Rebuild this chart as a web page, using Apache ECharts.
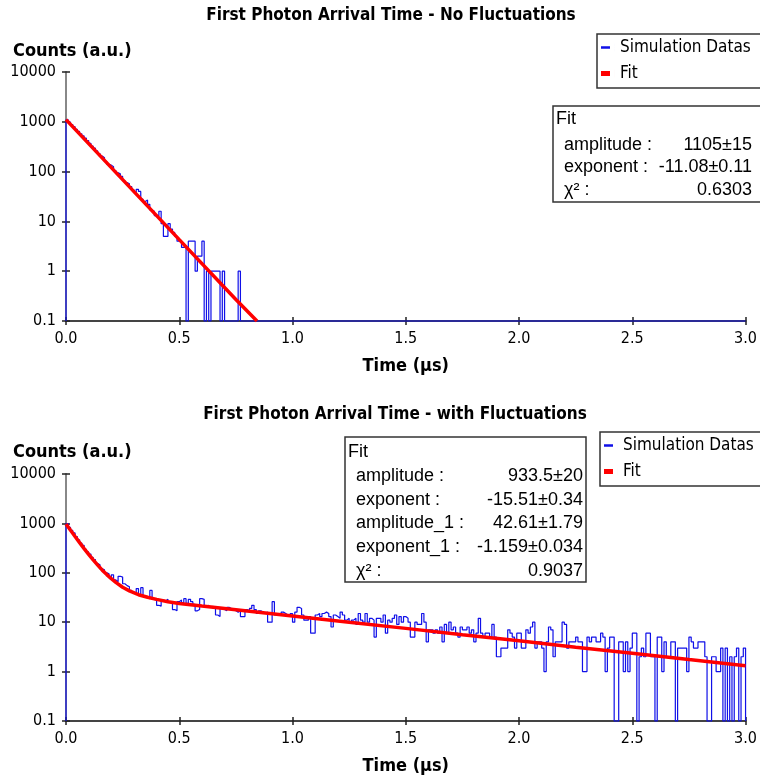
<!DOCTYPE html>
<html><head><meta charset="utf-8">
<script src="https://cdn.jsdelivr.net/npm/echarts/dist/echarts.min.js"></script>
<style>html,body{margin:0;padding:0;background:#fff}#c{width:760px;height:781px}</style>
</head><body><div id="c"></div>
<script>
// ---------- data ----------
const binWidth = 0.01; // µs
const xTickLabels = ['0.0', '0.5', '1.0', '1.5', '2.0', '2.5', '3.0'];
const yTickLabels = ['0.1', '1', '10', '100', '1000', '10000'];

// counts per 0.01 µs bin, 0 .. 3 µs (300 bins)
const countsNoFluct = [
  1100, 985, 880, 800, 705, 640, 575, 520, 470, 420,
  370, 325, 295, 260, 230, 205, 190, 160, 140, 135,
  125, 105, 95, 90, 80, 66, 60, 57, 50, 43,
  38, 44, 40, 28, 25, 27, 22, 17, 16, 13,
  13, 16, 9, 5, 5, 9, 7, 6, 5, 4,
  4, 3, 3, 0, 4, 4, 4, 1, 2, 2,
  4, 0, 1, 0, 1, 1, 1, 1, 0, 1,
  0, 0, 0, 0, 0, 0, 1, 0, 0, 0,
  0, 0, 0, 0, 0, 0, 0, 0, 0, 0,
  0, 0, 0, 0, 0, 0, 0, 0, 0, 0,
  0, 0, 0, 0, 0, 0, 0, 0, 0, 0,
  0, 0, 0, 0, 0, 0, 0, 0, 0, 0,
  0, 0, 0, 0, 0, 0, 0, 0, 0, 0,
  0, 0, 0, 0, 0, 0, 0, 0, 0, 0,
  0, 0, 0, 0, 0, 0, 0, 0, 0, 0,
  0, 0, 0, 0, 0, 0, 0, 0, 0, 0,
  0, 0, 0, 0, 0, 0, 0, 0, 0, 0,
  0, 0, 0, 0, 0, 0, 0, 0, 0, 0,
  0, 0, 0, 0, 0, 0, 0, 0, 0, 0,
  0, 0, 0, 0, 0, 0, 0, 0, 0, 0,
  0, 0, 0, 0, 0, 0, 0, 0, 0, 0,
  0, 0, 0, 0, 0, 0, 0, 0, 0, 0,
  0, 0, 0, 0, 0, 0, 0, 0, 0, 0,
  0, 0, 0, 0, 0, 0, 0, 0, 0, 0,
  0, 0, 0, 0, 0, 0, 0, 0, 0, 0,
  0, 0, 0, 0, 0, 0, 0, 0, 0, 0,
  0, 0, 0, 0, 0, 0, 0, 0, 0, 0,
  0, 0, 0, 0, 0, 0, 0, 0, 0, 0,
  0, 0, 0, 0, 0, 0, 0, 0, 0, 0,
  0, 0, 0, 0, 0, 0, 0, 0, 0, 0
];

const countsWithFluct = [
  990, 830, 720, 640, 540, 465, 400, 360, 300, 265,
  240, 205, 185, 155, 145, 120, 115, 100, 95, 80,
  91, 72, 66, 85, 82, 60, 55, 52, 44, 40,
  38, 48, 36, 50, 34, 31, 30, 44, 29, 28,
  22, 21, 28, 27, 29, 26, 25, 18, 17, 26,
  28, 25, 30, 24, 29, 26, 23, 17, 18, 30,
  29, 21, 22, 20, 21, 19, 14, 13, 19, 18,
  17, 20, 19, 18, 17, 16, 17, 13, 13, 18,
  17, 19, 22, 18, 15, 17, 16, 15, 16, 10,
  10, 26, 14, 15, 14, 16, 15, 14, 13, 15,
  10, 16, 20, 19, 14, 11, 11, 13, 6, 6,
  14, 15, 13, 15, 16, 15, 13, 8, 14, 13,
  12, 16, 14, 11, 12, 10, 11, 12, 9, 15,
  11, 10, 15, 10, 12, 11, 5, 12, 12, 10,
  14, 6, 11, 10, 12, 14, 9, 13, 10, 13,
  12, 10, 5, 5, 10, 9, 9, 15, 10, 4,
  7, 7, 6, 7, 6, 8, 4, 9, 6, 10,
  7, 8, 6, 5, 8, 7, 7, 8, 6, 7,
  4, 6, 12, 6, 5, 6, 6, 5, 9, 5,
  2, 2, 3, 3, 3, 7, 6, 5, 3, 6,
  6, 3, 3, 7, 6, 8, 10, 3, 4, 4,
  3, 1, 4, 8, 7, 2, 4, 4, 4, 10,
  9, 3, 4, 4, 4, 5, 4, 4, 1, 1,
  5, 4, 5, 5, 4, 4, 6, 5, 1, 3,
  5, 5, 0, 0, 4, 4, 1, 4, 1, 3,
  6, 6, 0, 2, 3, 2, 6, 6, 2, 2,
  0, 5, 5, 1, 4, 2, 2, 4, 4, 0,
  3, 3, 3, 3, 1, 5, 4, 3, 3, 4,
  4, 4, 2, 0, 0, 2, 2, 1, 1, 3,
  0, 3, 0, 2, 0, 2, 3, 0, 2, 3
];

// fit curves
const fitTopTime  = [0, 0.25, 0.5, 0.75, 0.843];
const fitTopValue = [1105, 69, 4.3, 0.27, 0.1];
const fitBotTime  = [0, 0.02, 0.04, 0.06, 0.08, 0.1, 0.12, 0.14, 0.16, 0.18, 0.2, 0.22, 0.25, 0.28, 0.32, 0.36, 0.4, 0.45, 0.5, 0.6, 0.7, 0.8, 1.0, 1.25, 1.5, 1.75, 2.0, 2.25, 2.5, 2.75, 3.0];
const fitBotValue = [976, 726, 543, 408, 309, 236, 182, 143, 113, 92, 76, 64, 51, 43, 36, 32, 29, 26, 24, 21.3, 19, 16.8, 13.4, 10, 7.5, 5.6, 4.2, 3.1, 2.35, 1.75, 1.32];

const fitTopLabels = ['amplitude :', 'exponent :', 'χ² :'];
const fitTopValues = ['1105±15', '-11.08±0.11', '0.6303'];
const fitBotLabels = ['amplitude :', 'exponent :', 'amplitude_1 :', 'exponent_1 :', 'χ² :'];
const fitBotValues = ['933.5±20', '-15.51±0.34', '42.61±1.79', '-1.159±0.034', '0.9037'];

const titleTop = 'First Photon Arrival Time - No Fluctuations';
const titleBot = 'First Photon Arrival Time - with Fluctuations';
const yName = 'Counts (a.u.)';
const xName = 'Time (µs)';
const nameData = 'Simulation Datas';
const nameFit = 'Fit';

// ---------- build ----------
const AXMIN = 0.1;
function histData(counts) {
  const d = [[0, AXMIN]];
  counts.forEach((c, i) => d.push([+(i * binWidth).toFixed(2), c > 0 ? c : AXMIN]));
  d.push([+(counts.length * binWidth).toFixed(2), AXMIN]);
  return d;
}
function pairs(t, v) { return t.map((x, i) => [x, v[i]]); }

const CF = 'DejaVu Sans Condensed';
const AF = 'Liberation Sans';

const grids = [
  { left: 66, width: 681, top: 72, height: 249 },
  { left: 66, width: 681, top: 474, height: 247 }
];

function xAxes(gi) {
  const base = { gridIndex: gi, type: 'value', min: 0, max: 3, interval: 0.5, position: 'bottom', splitLine: { show: false } };
  return [
    Object.assign({}, base, {
      name: xName, nameLocation: 'middle', nameGap: 36,
      nameTextStyle: { fontFamily: CF, fontWeight: 'bold', fontSize: 18, color: '#000' },
      axisLine: { show: true, lineStyle: { color: '#444', width: 2 } },
      axisTick: { show: true, inside: false, length: 4, lineStyle: { color: '#222', width: 1.5 } },
      axisLabel: { margin: 10, fontFamily: CF, fontSize: 16, color: '#000', formatter: v => xTickLabels[Math.round(v / 0.5)] }
    }),
    Object.assign({}, base, {
      axisLine: { show: false }, axisLabel: { show: false },
      axisTick: { show: true, inside: true, length: 4, lineStyle: { color: '#222', width: 1.5 } }
    })
  ];
}
function yAxes(gi) {
  const base = { gridIndex: gi, type: 'log', logBase: 10, min: 0.1, max: 10000, position: 'left', splitLine: { show: false }, minorTick: { show: false } };
  return [
    Object.assign({}, base, {
      axisLine: { show: true, lineStyle: { color: '#888', width: 2 } },
      axisTick: { show: true, inside: false, length: 4, lineStyle: { color: '#222', width: 1.5 } },
      axisLabel: { margin: 10, fontFamily: CF, fontSize: 16, color: '#000',
        formatter: v => yTickLabels[Math.round(Math.log10(v)) + 1] }
    }),
    Object.assign({}, base, {
      axisLine: { show: false }, axisLabel: { show: false },
      axisTick: { show: true, inside: true, length: 4, lineStyle: { color: '#222', width: 1.5 } }
    })
  ];
}

const legendIconData = 'path://M0,2.7 H9 V5.3 H0 Z M0,0 H0.01 V8 H0 Z M14,0 H14.01 V8 H14 Z';
const legendIconFit = 'path://M0,1.4 H9 V6.6 H0 Z M0,0 H0.01 V8 H0 Z M14,0 H14.01 V8 H14 Z';
function legend(left, top) {
  return {
    orient: 'vertical', left: left, top: top,
    itemWidth: 14, itemHeight: 8, itemGap: 9,
    padding: [5, 12, 6, 4],
    borderColor: '#333', borderWidth: 1.5, backgroundColor: '#fff',
    textStyle: { fontFamily: CF, fontSize: 17, color: '#000' },
    data: [{ name: nameData, icon: legendIconData }, { name: nameFit, icon: legendIconFit }],
    selectedMode: false
  };
}

function fitBox(x, y, w, h, valRight, rows, labels, values) {
  const els = [
    { type: 'rect', shape: { x: x, y: y, width: w, height: h }, style: { fill: '#fff', stroke: '#333', lineWidth: 1.5 }, z: 10 },
    { type: 'text', x: x + 3, y: rows[0], style: { text: 'Fit', font: '18px "' + AF + '"', fill: '#000', verticalAlign: 'middle' }, z: 11 }
  ];
  labels.forEach((lb, i) => {
    const yy = rows[i + 1];
    els.push({ type: 'text', x: x + 11, y: yy, style: { text: lb, font: '18px "' + AF + '"', fill: '#000', verticalAlign: 'middle' }, z: 11 });
    els.push({ type: 'text', x: valRight, y: yy, style: { text: values[i], font: '18px "' + AF + '"', fill: '#000', align: 'right', verticalAlign: 'middle' }, z: 11 });
  });
  return els;
}

const lineData = { type: 'line', step: 'end', showSymbol: false, symbol: 'none', clip: false,
  lineStyle: { color: '#1010e8', width: 1.2 }, itemStyle: { color: '#1010e8' }, animation: false, z: 3 };
const lineFit = { type: 'line', showSymbol: false, symbol: 'none', clip: true,
  lineStyle: { color: '#ff0000', width: 3.5 }, itemStyle: { color: '#ff0000' }, animation: false, z: 4 };

const option = {
  backgroundColor: '#fff',
  animation: false,
  title: [
    { text: titleTop, left: 386, top: 2, textAlign: 'center', textStyle: { fontFamily: CF, fontWeight: 'bold', fontSize: 17, color: '#000' } },
    { text: yName, left: 8, top: 37, textStyle: { fontFamily: CF, fontWeight: 'bold', fontSize: 18, color: '#000' } },
    { text: titleBot, left: 390, top: 401, textAlign: 'center', textStyle: { fontFamily: CF, fontWeight: 'bold', fontSize: 17, color: '#000' } },
    { text: yName, left: 8, top: 438, textStyle: { fontFamily: CF, fontWeight: 'bold', fontSize: 18, color: '#000' } }
  ],
  grid: grids,
  xAxis: [].concat(xAxes(0), xAxes(1)),
  yAxis: [].concat(yAxes(0), yAxes(1)),
  legend: [legend(597, 34), legend(600, 432)],
  series: [
    Object.assign({}, lineData, { name: nameData, xAxisIndex: 0, yAxisIndex: 0, data: histData(countsNoFluct) }),
    Object.assign({}, lineFit, { name: nameFit, xAxisIndex: 0, yAxisIndex: 0, data: pairs(fitTopTime, fitTopValue) }),
    Object.assign({}, lineData, { name: nameData, xAxisIndex: 2, yAxisIndex: 2, data: histData(countsWithFluct) }),
    Object.assign({}, lineFit, { name: nameFit, xAxisIndex: 2, yAxisIndex: 2, data: pairs(fitBotTime, fitBotValue) })
  ],
  graphic: [].concat(
    fitBox(553, 106, 220, 96, 752, [119, 145, 167, 190], fitTopLabels, fitTopValues),
    fitBox(345, 437, 241, 145, 583, [452, 476, 500, 523, 547, 571], fitBotLabels, fitBotValues)
  )
};

const chart = echarts.init(document.getElementById('c'), null, { renderer: 'canvas' });
chart.setOption(option);
</script>
</body></html>
